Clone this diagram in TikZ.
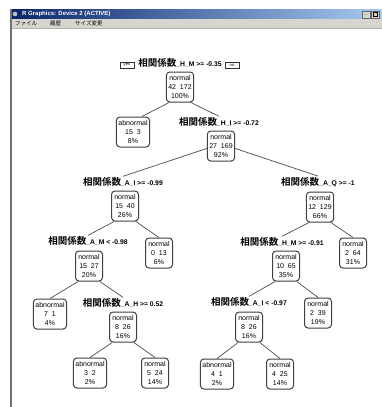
\documentclass[tikz,border=0pt]{standalone}
\usepackage{fontspec}
\setmainfont{Liberation Sans}
\newfontfamily\cjk{Noto Sans CJK JP}[BoldFont={Noto Sans CJK JP Bold}]
\definecolor{titledark}{HTML}{0A246A}
\definecolor{titlelight}{HTML}{A6CAF0}
\definecolor{menugray}{HTML}{D8D5D0}
\newcommand{\soukan}{{\cjk\bfseries\fontsize{9.5}{10}\selectfont 相関係数}}

\begin{document}
\begin{tikzpicture}[x=1pt, y=-1pt, draw=black!75]
        \tikzstyle{leaf}=[draw=black!75, rounded corners=3.5pt, line width=1pt, fill=white, align=center, font=\fontsize{7}{8.6}\selectfont, inner sep=2pt, minimum width=27pt, minimum height=30pt]
        \tikzstyle{split}=[font=\fontsize{6.8}{8}\selectfont\bfseries, inner sep=1pt]
        \tikzstyle{branch}=[line width=0.7pt, black!70]
        \tikzstyle{tag}=[draw=black!80, font=\fontsize{4.2}{4.5}\selectfont, inner sep=0.8pt, minimum width=14pt, minimum height=6.5pt]
        \tikzstyle{winbtn}=[draw=black!60, fill=menugray, minimum width=8pt, minimum height=6.5pt, inner sep=0pt, font=\fontsize{5}{5}\selectfont\bfseries]

        \useasboundingbox (0,0) rectangle (382,407);
        \fill[white] (0,0) rectangle (382,407);
        \fill[left color=titledark, right color=titlelight] (11,9.5) rectangle (382,18.5);
        \fill[menugray] (11,18.5) rectangle (382,28.5);
        \draw[black!30, line width=0.5pt] (11,28.5) -- (382,28.5);
        \draw[black!55, line width=1.5pt] (11,9) -- (11,407);
        \fill[black!25] (15,14) circle (2.3pt);
        \node[anchor=west, text=white, font=\fontsize{6}{6}\selectfont\bfseries, inner sep=0pt] (wtitle) at (22,14) {R Graphics: Device 2 (ACTIVE)};
        \node[winbtn] (wmin) at (366,14.5) {\_};
        \node[winbtn] (wmax) at (375,14.5) {};
        \node[draw=black, line width=0.6pt, minimum width=4pt, minimum height=3.5pt, inner sep=0pt] (wbox) at (wmax.center) {};
        \node[anchor=west, font=\cjk\fontsize{5.5}{6}\selectfont, inner sep=0pt] (mfile) at (15,23.5) {ファイル};
        \node[anchor=west, font=\cjk\fontsize{5.5}{6}\selectfont, inner sep=0pt] (mhist) at (50,23.5) {履歴};
        \node[anchor=west, font=\cjk\fontsize{5.5}{6}\selectfont, inner sep=0pt] (msize) at (75,23.5) {サイズ変更};

        \node[split] (L0) at (180,63) {\soukan\_H\_M >= -0.35};
        \node[tag] (yes) at (127,65) {yes};
        \node[tag] (no) at (232,65) {no};
        \node[leaf] (N1) at (180,87) {normal\\42\ \ 172\\100\%};

        \node[leaf] (N2) at (133,132) {abnormal\\15\ \ 3\\8\%};
        \node[split] (L1) at (219,122) {\soukan\_H\_I >= -0.72};
        \node[leaf] (N3) at (221,146) {normal\\27\ \ 169\\92\%};

        \node[split] (L2) at (123,182) {\soukan\_A\_I >= -0.99};
        \node[leaf] (N4) at (125,206) {normal\\15\ \ 40\\26\%};
        \node[split] (L3) at (318,182) {\soukan\_A\_Q >= -1};
        \node[leaf] (N5) at (320,207) {normal\\12\ \ 129\\66\%};

        \node[split] (L4) at (88,241) {\soukan\_A\_M < -0.98};
        \node[leaf] (N6) at (89,266) {normal\\15\ \ 27\\20\%};
        \node[leaf] (N7) at (159,253) {normal\\0\ \ 13\\6\%};
        \node[split] (L5) at (282,242) {\soukan\_H\_M >= -0.91};
        \node[leaf] (N8) at (286,266) {normal\\10\ \ 65\\35\%};
        \node[leaf] (N9) at (353,253) {normal\\2\ \ 64\\31\%};

        \node[leaf] (N10) at (50,314) {abnormal\\7\ \ 1\\4\%};
        \node[split] (L6) at (123,303) {\soukan\_A\_H >= 0.52};
        \node[leaf] (N11) at (123,327) {normal\\8\ \ 26\\16\%};
        \node[split] (L7) at (249,302) {\soukan\_A\_I < -0.97};
        \node[leaf] (N12) at (249,327) {normal\\8\ \ 26\\16\%};
        \node[leaf] (N13) at (318,313) {normal\\2\ \ 39\\19\%};

        \node[leaf] (N14) at (90,373) {abnormal\\3\ \ 2\\2\%};
        \node[leaf] (N15) at (155,373) {normal\\5\ \ 24\\14\%};
        \node[leaf] (N16) at (217,374) {abnormal\\4\ \ 1\\2\%};
        \node[leaf] (N17) at (280,374) {normal\\4\ \ 25\\14\%};

        \path[branch]
            (N1.-125) edge (N2.60)
            (N1.-55) edge (L1.north)
            (N3.190) edge (L2.north)
            (N3.-10) edge (L3.north)
            (N4.-125) edge (L4.north)
            (N4.-55) edge (N7.north)
            (N5.-125) edge (L5.north)
            (N5.-55) edge (N9.north)
            (N6.-125) edge (N10.north)
            (N6.-55) edge (L6.north)
            (N8.-125) edge (L7.north)
            (N8.-55) edge (N13.north)
            (N11.-125) edge (N14.north)
            (N11.-55) edge (N15.north)
            (N12.-125) edge (N16.north)
            (N12.-55) edge (N17.north)
        ;
    \end{tikzpicture}
\end{document}
